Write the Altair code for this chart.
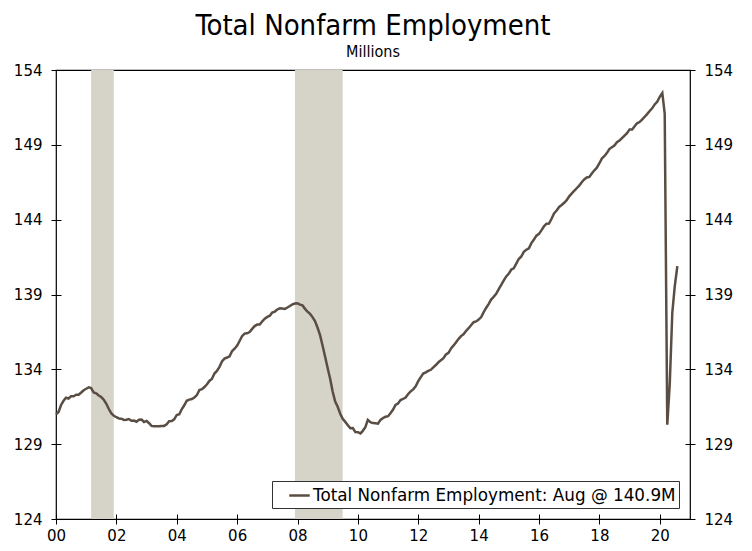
import altair as alt
import pandas as pd

# Monthly total nonfarm employment, millions, Jan 2000 - Aug 2020
y2000 = [131.0, 131.15, 131.6, 131.9, 132.1, 132.05, 132.2, 132.2, 132.3, 132.3, 132.45, 132.6]
y2001 = [132.7, 132.8, 132.75, 132.45, 132.4, 132.25, 132.15, 131.97, 131.7, 131.35, 131.05, 130.9]
y2002 = [130.8, 130.72, 130.7, 130.62, 130.63, 130.68, 130.57, 130.58, 130.5, 130.63, 130.64, 130.48]
y2003 = [130.55, 130.4, 130.22, 130.2, 130.19, 130.19, 130.21, 130.22, 130.33, 130.53, 130.54, 130.66]
y2004 = [130.95, 131.0, 131.33, 131.6, 131.9, 131.98, 132.02, 132.12, 132.28, 132.62, 132.68, 132.82]
y2005 = [133.0, 133.24, 133.36, 133.72, 133.89, 134.17, 134.53, 134.72, 134.79, 134.87, 135.22, 135.38]
y2006 = [135.59, 135.91, 136.21, 136.39, 136.41, 136.49, 136.7, 136.89, 136.99, 137.0, 137.21, 137.38]
y2007 = [137.5, 137.58, 137.79, 137.86, 138.0, 138.08, 138.06, 138.04, 138.13, 138.23, 138.34, 138.4]
y2008 = [138.41, 138.32, 138.27, 138.04, 137.86, 137.7, 137.49, 137.21, 136.76, 136.27, 135.54, 134.83]
y2009 = [134.05, 133.32, 132.52, 131.84, 131.5, 131.03, 130.7, 130.49, 130.27, 130.06, 130.08, 129.81]
y2010 = [129.8, 129.72, 129.89, 130.13, 130.62, 130.47, 130.41, 130.4, 130.37, 130.62, 130.75, 130.83]
y2011 = [130.87, 131.08, 131.3, 131.62, 131.72, 131.95, 132.02, 132.12, 132.35, 132.53, 132.66, 132.87]
y2012 = [133.21, 133.48, 133.72, 133.8, 133.9, 133.97, 134.13, 134.29, 134.47, 134.6, 134.74, 134.99]
y2013 = [135.1, 135.4, 135.58, 135.8, 136.02, 136.22, 136.34, 136.56, 136.75, 136.95, 137.15, 137.2]
y2014 = [137.32, 137.49, 137.8, 138.1, 138.36, 138.66, 138.84, 139.04, 139.36, 139.64, 139.95, 140.21]
y2015 = [140.4, 140.67, 140.75, 141.06, 141.37, 141.54, 141.85, 141.99, 142.09, 142.43, 142.68, 142.93]
y2016 = [143.05, 143.3, 143.56, 143.73, 143.74, 144.06, 144.42, 144.61, 144.85, 144.98, 145.13, 145.3]
y2017 = [145.56, 145.76, 145.92, 146.1, 146.27, 146.5, 146.69, 146.82, 146.86, 147.09, 147.3, 147.47]
y2018 = [147.77, 148.1, 148.24, 148.45, 148.72, 148.84, 148.95, 149.17, 149.28, 149.45, 149.62, 149.78]
y2019 = [150.03, 150.03, 150.22, 150.44, 150.52, 150.69, 150.86, 151.05, 151.26, 151.44, 151.7, 151.88]
y2020 = [152.21, 152.46, 151.09, 130.3, 133.03, 137.8, 139.57, 140.9]

years_values = [y2000, y2001, y2002, y2003, y2004, y2005, y2006, y2007, y2008, y2009,
                y2010, y2011, y2012, y2013, y2014, y2015, y2016, y2017, y2018, y2019, y2020]

recession_start = ["2001-03-01", "2007-12-01"]
recession_end = ["2001-11-30", "2009-06-30"]

x_ticks = [f"{y}-01-01" for y in range(2000, 2021, 2)]
y_ticks = [124, 129, 134, 139, 144, 149, 154]

series_name = "Total Nonfarm Employment: Aug @ 140.9M"

values = [v for yr in years_values for v in yr]
dates = pd.date_range("2000-01-01", periods=len(values), freq="MS")
df = pd.DataFrame({"date": dates, "value": values, "series": series_name})
rec = pd.DataFrame({"start": pd.to_datetime(recession_start), "end": pd.to_datetime(recession_end)})

LINE = "#5a4e44"
BAND = "#d6d3c8"
TICK_FONT = "DejaVu Sans"
TITLE_FONT = "Liberation Sans Narrow, DejaVu Sans Condensed, sans-serif"

x_scale = alt.Scale(domain=[pd.Timestamp("2000-01-01").isoformat(), pd.Timestamp("2021-01-01").isoformat()])
y_scale = alt.Scale(domain=[124, 154], nice=False, zero=False)

x_axis = alt.Axis(
    values=[pd.Timestamp(t).isoformat() for t in x_ticks],
    format="%y", title=None, grid=False, domain=False, labelFlush=False,
    tickSize=10, offset=-5, tickColor="black", labelPadding=4,
    labelFont=TICK_FONT, labelFontSize=15, labelColor="black",
)

bands = alt.Chart(rec).mark_rect(color=BAND).encode(
    x=alt.X("start:T", scale=x_scale, axis=x_axis),
    x2="end:T",
)

def yaxis(orient):
    return alt.Axis(
        orient=orient, values=y_ticks, title=None, grid=False, domain=False,
        tickSize=10, offset=-5, tickColor="black", labelPadding=9,
        labelFont=TICK_FONT, labelFontSize=15, labelColor="black",
    )

line_left = alt.Chart(df).mark_line(strokeWidth=2.5).encode(
    x=alt.X("date:T", scale=x_scale, axis=x_axis),
    y=alt.Y("value:Q", scale=y_scale, axis=yaxis("left")),
    color=alt.Color("series:N", scale=alt.Scale(range=[LINE]),
                    legend=alt.Legend(title=None, orient="bottom-right", offset=11,
                                      symbolType="stroke", symbolSize=420, symbolStrokeWidth=2.5,
                                      symbolOffset=13, labelOffset=2,
                                      labelExpr="datum.label + '\u00a0'",
                                      labelFont=TICK_FONT, labelFontSize=16.8, labelColor="black",
                                      strokeColor="#333333", fillColor="white", padding=3,
                                      labelLimit=600)),
)

line_right = alt.Chart(df).mark_line(strokeWidth=0, opacity=0).encode(
    x=alt.X("date:T", scale=x_scale),
    y=alt.Y("value:Q", scale=y_scale, axis=yaxis("right")),
)

chart = alt.layer(bands, line_left, line_right).resolve_axis(y="independent").properties(
    width=634, height=449,
    autosize=alt.AutoSizeParams(type="none"),
    padding={"left": 48, "top": 62, "right": 54, "bottom": 24},
    title=alt.Title(
        "Total Nonfarm Employment", subtitle="Millions",
        anchor="middle", font=TITLE_FONT,
        fontSize=29, fontWeight="normal", color="black",
        subtitleFont=TITLE_FONT,
        subtitleFontSize=16, subtitleColor="black", subtitlePadding=3, offset=3,
    ),
).configure_view(stroke="black", strokeWidth=1.2)

chart.save("out.html", embed_options={"renderer": "svg", "actions": False})
